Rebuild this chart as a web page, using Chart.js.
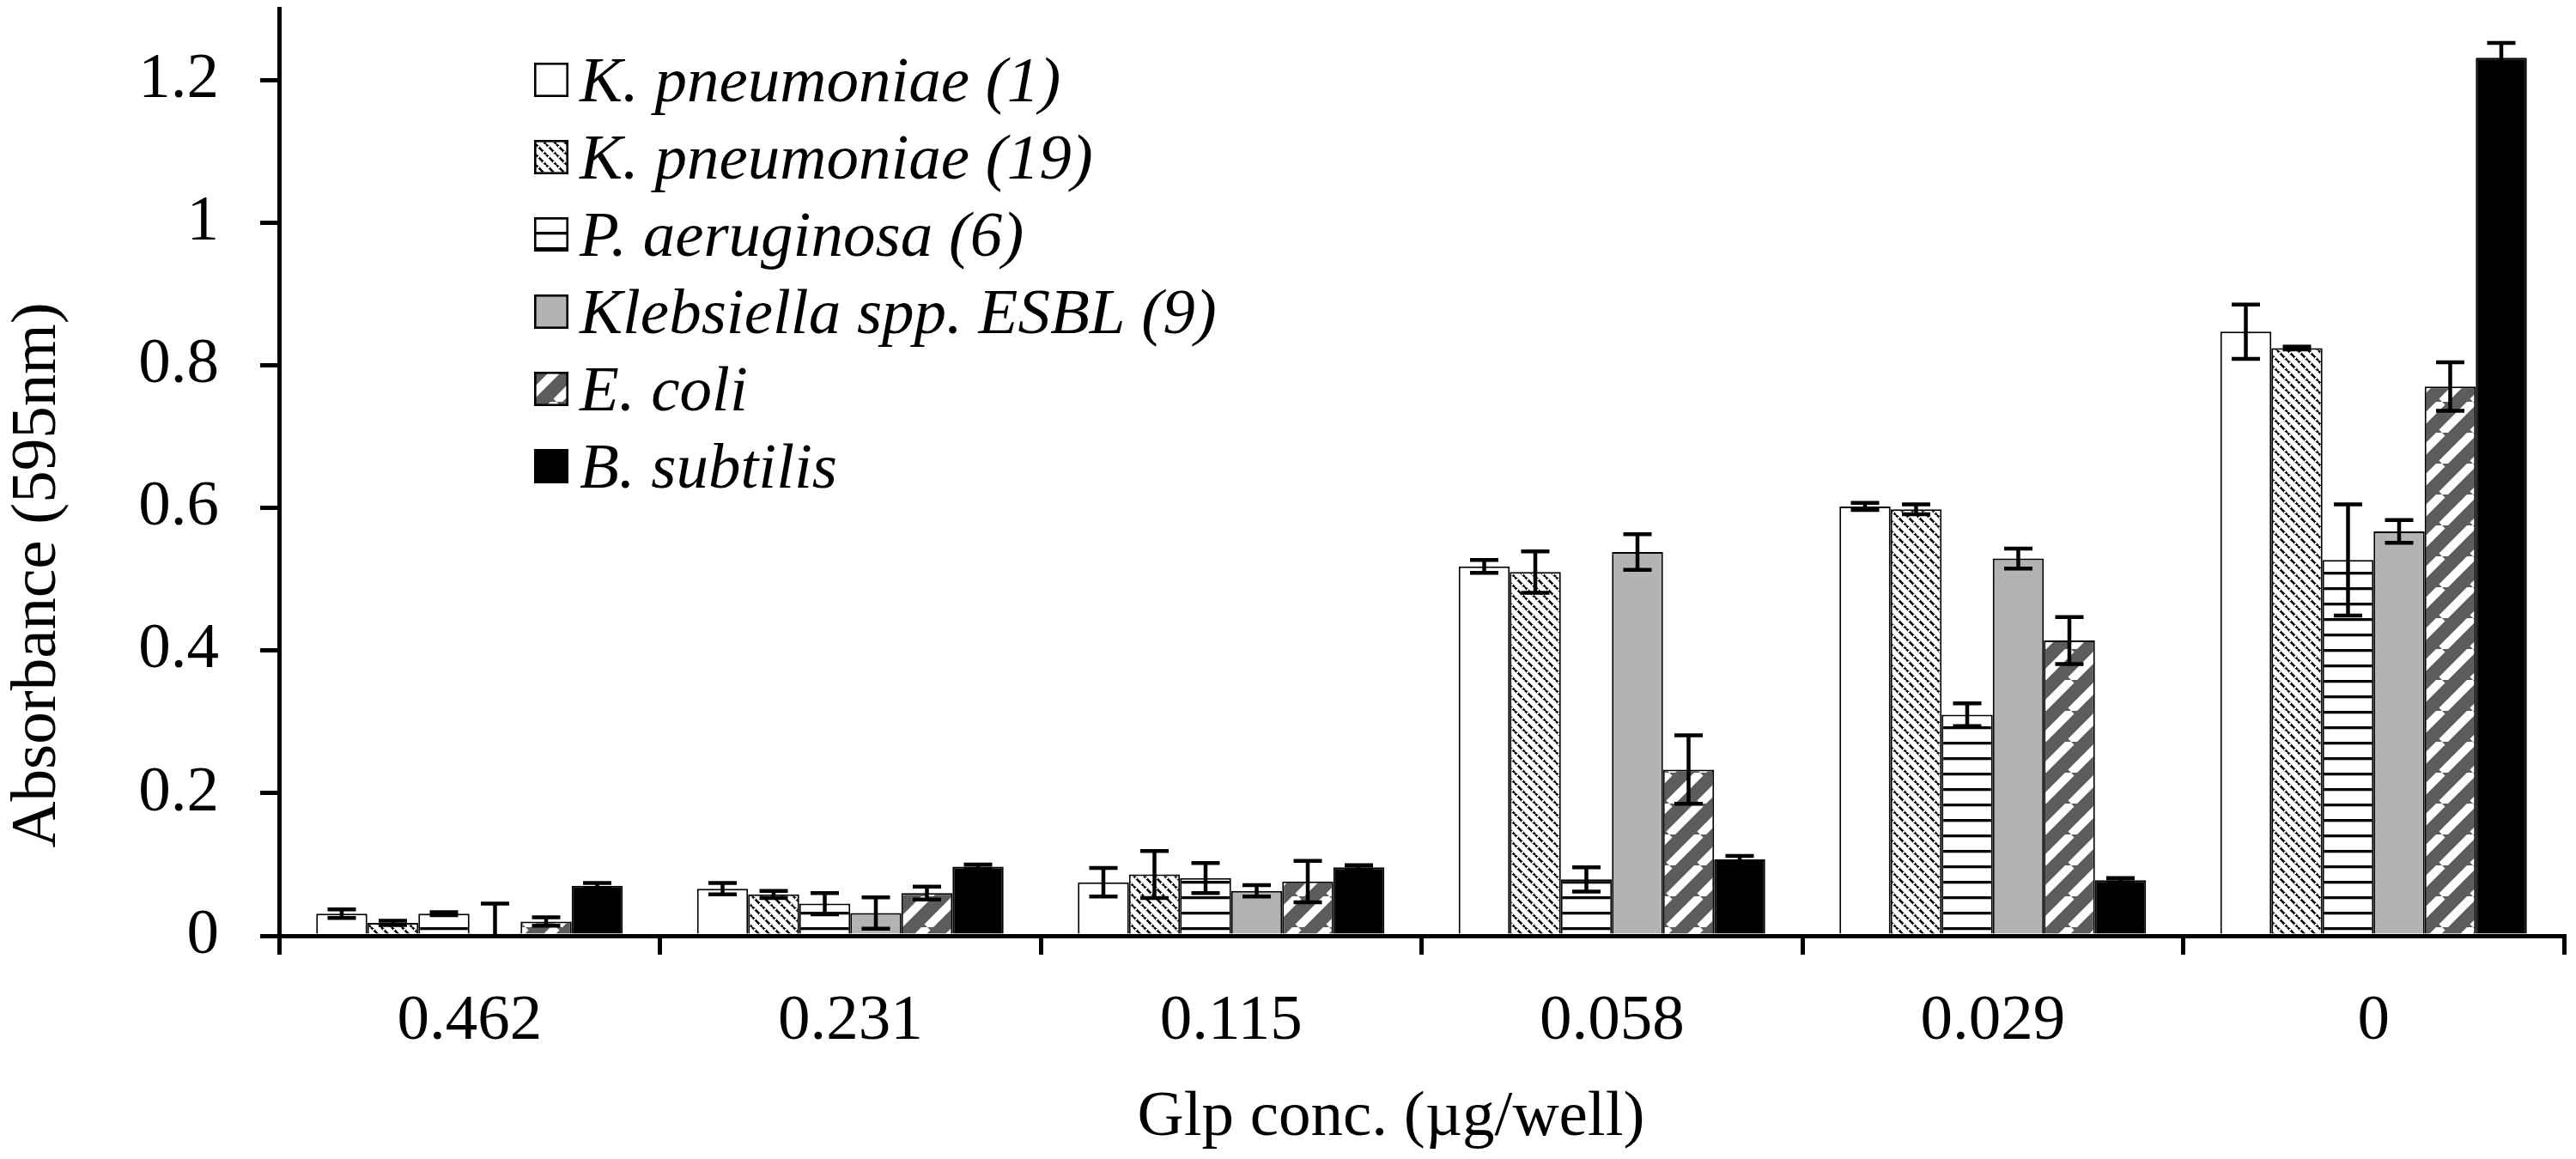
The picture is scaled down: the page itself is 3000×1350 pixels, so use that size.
<!DOCTYPE html>
<html>
<head>
<meta charset="utf-8">
<script src="https://cdn.jsdelivr.net/npm/chart.js@4.4.1/dist/chart.umd.min.js"></script>
<style>
html,body{margin:0;padding:0;background:#fff;}
canvas{display:block;}
</style>
</head>
<body>
<canvas id="c" width="3000" height="1350"></canvas>
<script>
// ---------- data ----------
const categories = ['0.462', '0.231', '0.115', '0.058', '0.029', '0'];
const seriesLabels = ['K. pneumoniae (1)', 'K. pneumoniae (19)', 'P. aeruginosa (6)', 'Klebsiella spp. ESBL (9)', 'E. coli', 'B. subtilis'];

const kp1      = [0.031, 0.066, 0.075, 0.518, 0.602, 0.847];
const kp1Err   = [0.006, 0.008, 0.020, 0.009, 0.005, 0.038];
const kp19     = [0.018, 0.058, 0.086, 0.510, 0.598, 0.824];
const kp19Err  = [0.003, 0.005, 0.033, 0.029, 0.007, 0.002];
const pa6      = [0.031, 0.045, 0.081, 0.079, 0.310, 0.527];
const pa6Err   = [0.002, 0.015, 0.021, 0.017, 0.016, 0.078];
const kleb9    = [0.002, 0.032, 0.063, 0.538, 0.529, 0.567];
const kleb9Err = [0.043, 0.022, 0.008, 0.025, 0.014, 0.016];
const ecoli    = [0.020, 0.060, 0.076, 0.233, 0.414, 0.770];
const ecoliErr = [0.006, 0.009, 0.029, 0.048, 0.033, 0.034];
const bsub     = [0.070, 0.097, 0.096, 0.107, 0.078, 1.231];
const bsubErr  = [0.004, 0.003, 0.003, 0.005, 0.003, 0.021];

const yTicks = [0, 0.2, 0.4, 0.6, 0.8, 1, 1.2];
const xTitle = 'Glp conc. (\u00b5g/well)';
const yTitle = 'Absorbance (595nm)';

// ---------- styles ----------
const FONT = '"Liberation Serif", "Times New Roman", serif';
const FS = 75;

function makePattern(w, h, draw) {
  const c = document.createElement('canvas');
  c.width = w; c.height = h;
  const g = c.getContext('2d');
  draw(g, w, h);
  return g.createPattern(c, 'repeat');
}
const dottedHatch = makePattern(12, 12, (g, w, h) => {
  g.fillStyle = '#fff'; g.fillRect(0, 0, w, h);
  g.strokeStyle = '#000'; g.lineWidth = 2.6;
  for (const o of [-12, 0, 12]) { g.beginPath(); g.moveTo(o, 0); g.lineTo(o + 12, 12); g.stroke(); }
  g.fillStyle = '#fff'; g.fillRect(2, 2, 2, 2); g.fillRect(8, 8, 2, 2);
});
const horizLines = makePattern(8, 18, (g, w, h) => {
  g.fillStyle = '#fff'; g.fillRect(0, 0, w, h);
  g.fillStyle = '#000'; g.fillRect(0, 0, w, 3.3);
});
const diagStripes = makePattern(36, 36, (g, w, h) => {
  g.fillStyle = '#5c5c5c'; g.fillRect(0, 0, w, h);
  g.strokeStyle = '#fff'; g.lineWidth = 10;
  for (const o of [-36, 0, 36]) { g.beginPath(); g.moveTo(o, 36); g.lineTo(o + 36, 0); g.stroke(); }
});

const fills = ['#ffffff', dottedHatch, horizLines, '#b3b3b3', diagStripes, '#000000'];
const values = [kp1, kp19, pa6, kleb9, ecoli, bsub];
const errors = [kp1Err, kp19Err, pa6Err, kleb9Err, ecoliErr, bsubErr];

const datasets = seriesLabels.map((label, i) => ({
  label: label,
  data: values[i],
  errors: errors[i],
  backgroundColor: fills[i],
  borderColor: '#000',
  borderWidth: 2,
  categoryPercentage: 0.805,
  barPercentage: 1.0
}));

// ---------- plugins ----------
const errorBarPlugin = {
  id: 'errorBars',
  afterDatasetsDraw(chart) {
    const ctx = chart.ctx, ys = chart.scales.y, a = chart.chartArea;
    ctx.save();
    ctx.beginPath();
    ctx.rect(a.left, a.top - 30, a.right - a.left, a.bottom - a.top + 30);
    ctx.clip();
    ctx.strokeStyle = '#000';
    ctx.lineWidth = 4.5;
    ctx.lineCap = 'butt';
    chart.data.datasets.forEach((ds, i) => {
      const meta = chart.getDatasetMeta(i);
      meta.data.forEach((el, j) => {
        const v = ds.data[j], e = ds.errors[j];
        const x = el.x;
        const t = ys.getPixelForValue(v + e);
        const b = ys.getPixelForValue(v - e);
        ctx.beginPath();
        ctx.moveTo(x, t); ctx.lineTo(x, b);
        ctx.moveTo(x - 16.5, t); ctx.lineTo(x + 16.5, t);
        ctx.moveTo(x - 16.5, b); ctx.lineTo(x + 16.5, b);
        ctx.stroke();
      });
    });
    ctx.restore();
  }
};

const legendPlugin = {
  id: 'insideLegend',
  afterDraw(chart) {
    const ctx = chart.ctx, a = chart.chartArea;
    const bx = a.left + 297, by = 93, step = 90;
    ctx.save();
    ctx.font = 'italic ' + FS + 'px ' + FONT;
    ctx.textAlign = 'left';
    ctx.textBaseline = 'alphabetic';
    chart.data.datasets.forEach((ds, i) => {
      const cy = by + i * step;
      ctx.fillStyle = ds.backgroundColor;
      ctx.fillRect(bx, cy - 20, 40, 40);
      ctx.strokeStyle = '#000';
      ctx.lineWidth = 2.6;
      ctx.strokeRect(bx + 1.3, cy - 18.7, 37.4, 37.4);
      ctx.fillStyle = '#000';
      ctx.fillText(ds.label, bx + 53, cy + 25);
    });
    ctx.restore();
  }
};

const axisTitlePlugin = {
  id: 'axisTitles',
  afterDraw(chart) {
    const ctx = chart.ctx;
    ctx.save();
    ctx.fillStyle = '#000';
    ctx.font = FS + 'px ' + FONT;
    ctx.textAlign = 'center';
    ctx.textBaseline = 'alphabetic';
    ctx.fillText(xTitle, 1620, 1322);
    ctx.translate(64, 670);
    ctx.rotate(-Math.PI / 2);
    ctx.fillText(yTitle, 0, 0);
    ctx.restore();
  }
};

// ---------- chart ----------
new Chart(document.getElementById('c'), {
  type: 'bar',
  data: { labels: categories, datasets: datasets },
  options: {
    responsive: false,
    animation: false,
    devicePixelRatio: 1,
    layout: { padding: { left: 0, right: 14, top: 10, bottom: 0 } },
    plugins: { legend: { display: false }, tooltip: { enabled: false } },
    scales: {
      x: {
        z: 1,
        offset: true,
        grid: { offset: true, drawOnChartArea: false, drawTicks: true, tickLength: 22, lineWidth: 5, color: '#000' },
        border: { display: true, width: 5, color: '#000' },
        ticks: { color: '#000', font: { family: FONT, size: FS }, padding: 33, maxRotation: 0, autoSkip: false },
        afterFit(scale) { scale.height = 260; scale.paddingLeft = 0; scale.paddingRight = 0; }
      },
      y: {
        z: 1,
        min: 0,
        max: 1.3,
        grid: { drawOnChartArea: false, drawTicks: true, tickLength: 22, lineWidth: 5, color: '#000' },
        border: { display: true, width: 5, color: '#000' },
        ticks: {
          stepSize: 0.2,
          color: '#000',
          font: { family: FONT, size: FS },
          padding: 48,
          callback: v => String(+(+v).toFixed(1))
        },
        afterBuildTicks(scale) {
          scale.ticks = yTicks.map(v => ({ value: v }));
        },
        afterFit(scale) { scale.width = 325; scale.paddingTop = 0; scale.paddingBottom = 0; }
      }
    }
  },
  plugins: [errorBarPlugin, legendPlugin, axisTitlePlugin]
});
</script>
</body>
</html>
